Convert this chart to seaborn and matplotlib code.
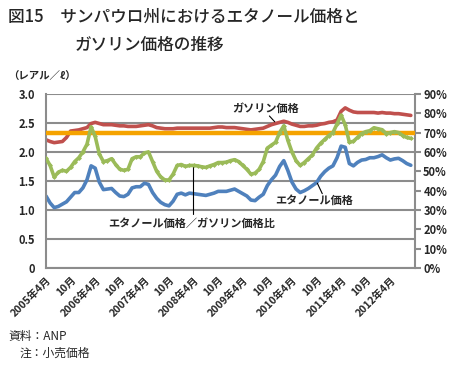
import numpy as np
import pandas as pd
import matplotlib
matplotlib.use("Agg")
import matplotlib.pyplot as plt
import seaborn as sns

# monthly data, 2005-04 .. 2012-09 (index 0 = 2005-04)
ethanol = [1.24, 1.12, 1.04, 1.06, 1.10, 1.14, 1.22, 1.30, 1.30, 1.38,
           1.52, 1.76, 1.72, 1.48, 1.35, 1.36, 1.37, 1.30, 1.24, 1.23,
           1.27, 1.38, 1.40, 1.40, 1.46, 1.44, 1.30, 1.20, 1.13, 1.09,
           1.07, 1.15, 1.27, 1.29, 1.26, 1.29, 1.28, 1.27, 1.26, 1.25,
           1.27, 1.29, 1.32, 1.32, 1.32, 1.34, 1.36, 1.32, 1.28, 1.24,
           1.17, 1.16, 1.22, 1.27, 1.42, 1.52, 1.60, 1.75, 1.85, 1.68,
           1.48, 1.36, 1.30, 1.33, 1.37, 1.42, 1.47, 1.58, 1.66, 1.72,
           1.76, 1.90, 2.10, 2.08, 1.80, 1.76, 1.82, 1.86, 1.87, 1.90,
           1.90, 1.92, 1.95, 1.90, 1.86, 1.88, 1.89, 1.85, 1.80, 1.77]
gasoline = [2.21, 2.18, 2.16, 2.17, 2.18, 2.25, 2.36, 2.37, 2.38, 2.40,
            2.42, 2.49, 2.51, 2.49, 2.47, 2.47, 2.47, 2.46, 2.45, 2.45,
            2.44, 2.44, 2.44, 2.45, 2.46, 2.47, 2.45, 2.42, 2.41, 2.40,
            2.40, 2.40, 2.41, 2.41, 2.41, 2.41, 2.41, 2.41, 2.41, 2.41,
            2.41, 2.42, 2.43, 2.43, 2.42, 2.42, 2.42, 2.41, 2.40, 2.39,
            2.38, 2.39, 2.40, 2.41, 2.44, 2.47, 2.49, 2.51, 2.53, 2.51,
            2.48, 2.46, 2.44, 2.44, 2.45, 2.45, 2.46, 2.48, 2.49, 2.51,
            2.52, 2.55, 2.70, 2.76, 2.72, 2.69, 2.68, 2.68, 2.68, 2.68,
            2.68, 2.67, 2.68, 2.67, 2.67, 2.66, 2.66, 2.65, 2.64, 2.63]
ratio = [56.7, 53.0, 47.0, 49.5, 50.5, 50.0, 52.0, 55.0, 57.0, 60.0,
         64.0, 73.0, 68.0, 59.0, 55.0, 55.5, 56.5, 53.5, 51.0, 50.5,
         51.0, 56.5, 57.5, 57.5, 59.5, 60.0, 55.0, 50.0, 47.0, 45.5,
         45.5, 48.5, 53.0, 53.5, 52.5, 53.0, 53.0, 52.8, 52.3, 52.0,
         52.8, 53.5, 54.5, 54.5, 54.7, 55.5, 56.0, 55.0, 53.0, 51.0,
         48.5, 49.0, 51.0, 55.0, 62.0, 63.5, 65.0, 70.0, 73.5, 66.0,
         60.0, 55.5, 53.0, 54.5, 56.5, 58.5, 62.0, 64.5, 66.5, 68.5,
         70.0, 74.5, 79.0, 74.0, 65.0, 65.5, 67.5, 69.5, 70.5, 71.0,
         72.5, 72.0, 71.5, 69.5, 70.0, 70.5, 70.0, 68.5, 67.5, 67.0]
parity = 70  # %

tick_months = list(range(0, 91, 6))
tick_labels = ["2005年4月", "10月", "2006年4月", "10月", "2007年4月", "10月",
               "2008年4月", "10月", "2009年4月", "10月", "2010年4月", "10月",
               "2011年4月", "10月", "2012年4月", ""]

df = pd.DataFrame({"month": np.arange(len(ethanol)), "ethanol": ethanol,
                   "gasoline": gasoline, "ratio": ratio})

sns.set_style("white")
plt.rcParams["font.family"] = ["Noto Sans CJK JP", "DejaVu Sans"]

RED, BLUE, GREEN, ORANGE, GRID = "#C0504D", "#4F81BD", "#9BBB59", "#F5A300", "#8C8C8C"

fig = plt.figure(figsize=(4.51, 3.67), dpi=100)
ax = fig.add_axes([0.102, 0.270, 0.818, 0.474])
ax2 = ax.twinx()

ax.set_ylim(0, 3.0)
ax.set_yticks(np.arange(0, 3.01, 0.5))
ax.set_yticklabels(["0", "0.5", "1.0", "1.5", "2.0", "2.5", "3.0"], fontsize=8, fontweight="bold")
ax.yaxis.grid(True, color=GRID, lw=1.5)
ax.set_axisbelow(True)
ax.set_xlim(0, 90)
ax.set_xticks(tick_months)
ax.set_xticklabels(tick_labels, rotation=45, ha="right", rotation_mode="anchor",
                   fontsize=7.5, fontweight="bold")
ax.tick_params(axis="x", length=4, width=1.5, color=GRID, pad=1)
ax.tick_params(axis="y", length=0, pad=8)
for s in ["left", "bottom", "right"]:
    ax.spines[s].set_color(GRID)
    ax.spines[s].set_linewidth(1.5)
ax.spines["top"].set_visible(False)

ax2.set_ylim(0, 90)
ax2.set_yticks(np.arange(0, 91, 10))
ax2.set_yticklabels([f"{v}%" for v in range(0, 91, 10)], fontsize=8, fontweight="bold")
ax2.tick_params(axis="y", length=4, width=1.5, color=GRID, pad=2)
for s in ["left", "bottom", "right", "top"]:
    ax2.spines[s].set_visible(False)

sns.lineplot(data=df, x="month", y="gasoline", ax=ax, color=RED, lw=2.6, legend=False)
sns.lineplot(data=df, x="month", y="ethanol", ax=ax, color=BLUE, lw=2.6, legend=False)
ax2.axhline(parity, color=ORANGE, lw=3.2, zorder=1)
sns.lineplot(data=df, x="month", y="ratio", ax=ax2, color=GREEN, lw=2.6,
             marker="D", markersize=2.5, markeredgewidth=0, legend=False, zorder=3)
ax.set_xlabel("")
ax.set_ylabel("")
ax2.set_ylabel("")
ax2.set_xlim(0, 90)

# annotations
ann = dict(fontsize=8, fontweight="bold", ha="center", va="center")
ax.text(53.5, 2.76, "ガソリン価格", **ann)
ax.plot([54.5, 55.8], [2.62, 2.52], color="black", lw=0.8)
ax.text(65.5, 1.16, "エタノール価格", **ann)
ax.plot([66.2, 67.4], [1.46, 1.28], color="black", lw=0.8)
ax.text(35.5, 0.77, "エタノール価格／ガソリン価格比", **ann)
ax.plot([35.8, 35.8], [1.76, 0.93], color="black", lw=0.8)

fig.text(0.018, 0.79, "（レアル／ℓ）", fontsize=7.5, fontweight="bold", va="center")
fig.text(0.018, 0.953, "図15　サンパウロ州におけるエタノール価格と", fontsize=12,
         fontweight="medium", va="center")
fig.text(0.166, 0.878, "ガソリン価格の推移", fontsize=12, fontweight="medium", va="center")
fig.text(0.018, 0.082, "資料：ANP", fontsize=8.5, va="center")
fig.text(0.044, 0.038, "注：小売価格", fontsize=8.5, va="center")

fig.savefig("out.png", dpi=100)
